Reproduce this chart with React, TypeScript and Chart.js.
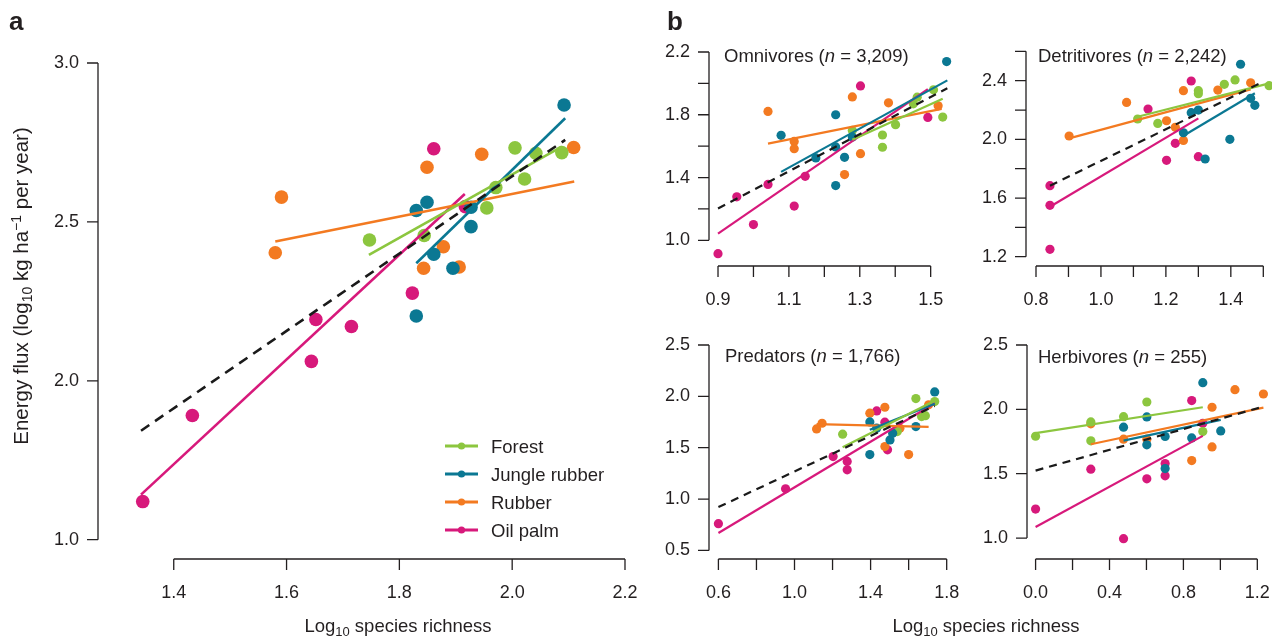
import React, { useEffect, useRef } from "react";
import { Chart, registerables } from "chart.js";

Chart.register(...registerables);

const FONT = '"Liberation Sans", Arial, Helvetica, sans-serif';
const INK = "#231F20";
const GROUPS = ["Forest", "Jungle rubber", "Rubber", "Oil palm"];
const GROUP_COLORS = ["#8CC63F", "#0B7893", "#F37A21", "#D7197B"];

type Pt = [number, number];

// ---------- Panel a (all animals) ----------
const aForest: Pt[] = [[1.747, 2.443], [1.844, 2.457], [1.955, 2.544], [1.971, 2.608], [2.005, 2.733], [2.022, 2.635], [2.042, 2.716], [2.088, 2.718]];
const aJungle: Pt[] = [[1.830, 2.204], [1.830, 2.536], [1.849, 2.562], [1.861, 2.398], [1.895, 2.354], [1.927, 2.485], [1.927, 2.546], [2.092, 2.868]];
const aRubber: Pt[] = [[1.580, 2.403], [1.591, 2.578], [1.843, 2.354], [1.849, 2.672], [1.878, 2.422], [1.906, 2.358], [1.946, 2.713], [2.109, 2.734]];
const aOilPalm: Pt[] = [[1.345, 1.620], [1.433, 1.891], [1.644, 2.061], [1.652, 2.193], [1.715, 2.171], [1.823, 2.276], [1.861, 2.730], [1.917, 2.548]];
const aFits = [[1.746, 2.396, 2.088, 2.737], [1.830, 2.370, 2.094, 2.826], [1.580, 2.438, 2.110, 2.627], [1.342, 1.642, 1.916, 2.588]];
const aOverall = [1.342, 1.843, 2.094, 2.758];
const aXTicks = [1.4, 1.6, 1.8, 2.0, 2.2];
const aXLabels = ["1.4", "1.6", "1.8", "2.0", "2.2"];
const aYTicks = [1.5, 2.0, 2.5, 3.0];
const aYLabels = ["1.0", "2.0", "2.5", "3.0"];

// ---------- Omnivores ----------
const omForest: Pt[] = [[1.279, 1.700], [1.364, 1.671], [1.364, 1.593], [1.401, 1.737], [1.451, 1.870], [1.462, 1.912], [1.508, 1.959], [1.534, 1.785]];
const omJungle: Pt[] = [[1.078, 1.669], [1.176, 1.525], [1.232, 1.800], [1.232, 1.595], [1.232, 1.349], [1.257, 1.529], [1.279, 1.658], [1.545, 2.139]];
const omRubber: Pt[] = [[1.041, 1.821], [1.115, 1.630], [1.115, 1.584], [1.257, 1.419], [1.279, 1.914], [1.302, 1.552], [1.381, 1.876], [1.521, 1.857]];
const omOilPalm: Pt[] = [[0.900, 0.915], [0.953, 1.277], [1.000, 1.100], [1.041, 1.356], [1.115, 1.218], [1.146, 1.408], [1.302, 1.984], [1.492, 1.783]];
const omFits = [[1.279, 1.641, 1.534, 1.902], [1.078, 1.436, 1.547, 2.019], [1.041, 1.616, 1.531, 1.838], [0.900, 1.043, 1.492, 1.963]];
const omOverall = [0.900, 1.203, 1.547, 1.969];
const omXTicks = [0.9, 1.0, 1.1, 1.2, 1.3, 1.4, 1.5];
const omXLabels = ["0.9", "", "1.1", "", "1.3", "", "1.5"];
const omYTicks = [1.0, 1.2, 1.4, 1.6, 1.8, 2.0, 2.2];
const omYLabels = ["1.0", "", "1.4", "", "1.8", "", "2.2"];

// ---------- Detritivores ----------
const deForest: Pt[] = [[1.113, 2.139], [1.175, 2.109], [1.300, 2.332], [1.300, 2.311], [1.380, 2.375], [1.413, 2.405], [1.518, 2.366]];
const deJungle: Pt[] = [[1.254, 2.045], [1.278, 2.182], [1.300, 2.200], [1.321, 1.866], [1.397, 2.000], [1.430, 2.512], [1.461, 2.280], [1.474, 2.232]];
const deRubber: Pt[] = [[0.902, 2.023], [1.079, 2.252], [1.202, 2.127], [1.229, 2.082], [1.254, 2.332], [1.254, 1.993], [1.360, 2.336], [1.461, 2.386]];
const deOilPalm: Pt[] = [[0.843, 1.684], [0.843, 1.550], [0.843, 1.250], [1.145, 2.207], [1.202, 1.857], [1.229, 1.973], [1.278, 2.398], [1.300, 1.882]];
const deFits = [[1.113, 2.154, 1.518, 2.382], [1.254, 2.025, 1.474, 2.314], [0.902, 2.007, 1.461, 2.341], [0.843, 1.541, 1.300, 2.143]];
const deOverall = [0.843, 1.684, 1.500, 2.393];
const deXTicks = [0.8, 0.9, 1.0, 1.1, 1.2, 1.3, 1.4, 1.5];
const deXLabels = ["0.8", "", "1.0", "", "1.2", "", "1.4", ""];
const deYTicks = [1.2, 1.4, 1.6, 1.8, 2.0, 2.2, 2.4, 2.6];
const deYLabels = ["1.2", "", "1.6", "", "2.0", "", "2.4", ""];

// ---------- Predators ----------
const prForest: Pt[] = [[1.253, 1.632], [1.540, 1.657], [1.638, 1.978], [1.668, 1.803], [1.688, 1.812], [1.737, 1.949]];
const prJungle: Pt[] = [[1.396, 1.751], [1.396, 1.433], [1.432, 1.690], [1.502, 1.576], [1.516, 1.641], [1.638, 1.706], [1.737, 2.043]];
const prRubber: Pt[] = [[1.116, 1.683], [1.145, 1.738], [1.396, 1.836], [1.475, 1.894], [1.475, 1.511], [1.554, 1.690], [1.600, 1.433], [1.705, 1.917]];
const prOilPalm: Pt[] = [[0.600, 0.760], [0.953, 1.100], [1.203, 1.414], [1.277, 1.366], [1.277, 1.285], [1.432, 1.858], [1.475, 1.748], [1.489, 1.479]];
const prFits = [[1.253, 1.505, 1.737, 1.958], [1.396, 1.674, 1.737, 1.927], [1.116, 1.729, 1.705, 1.703], [0.600, 0.669, 1.737, 1.933]];
const prOverall = [0.600, 0.922, 1.737, 1.907];
const prXTicks = [0.6, 0.8, 1.0, 1.2, 1.4, 1.6, 1.8];
const prXLabels = ["0.6", "", "1.0", "", "1.4", "", "1.8"];
const prYTicks = [0.5, 1.0, 1.5, 2.0, 2.5];
const prYLabels = ["0.5", "1.0", "1.5", "2.0", "2.5"];

// ---------- Herbivores ----------
const heForest: Pt[] = [[0.000, 1.791], [0.299, 1.902], [0.299, 1.755], [0.476, 1.943], [0.602, 2.057], [0.905, 1.827]];
const heJungle: Pt[] = [[0.476, 1.861], [0.602, 1.941], [0.602, 1.724], [0.701, 1.789], [0.701, 1.540], [0.845, 1.778], [0.905, 2.207], [1.002, 1.832]];
const heRubber: Pt[] = [[0.299, 1.887], [0.476, 1.768], [0.602, 1.768], [0.845, 1.602], [0.955, 2.016], [0.955, 1.708], [1.079, 2.153], [1.233, 2.119]];
const heOilPalm: Pt[] = [[0.000, 1.225], [0.299, 1.535], [0.476, 0.995], [0.602, 1.460], [0.701, 1.579], [0.701, 1.483], [0.845, 2.068], [0.905, 1.892]];
const heFits = [[0.000, 1.815, 0.905, 2.016], [0.476, 1.757, 1.002, 1.918], [0.299, 1.729, 1.233, 2.013], [0.000, 1.085, 0.905, 1.794]];
const heOverall = [0.000, 1.524, 1.233, 2.021];
const heXTicks = [0.0, 0.2, 0.4, 0.6, 0.8, 1.0, 1.2];
const heXLabels = ["0.0", "", "0.4", "", "0.8", "", "1.2"];
const heYTicks = [1.0, 1.5, 2.0, 2.5];
const heYLabels = ["1.0", "1.5", "2.0", "2.5"];

// ---------- layout ----------
type Area = { L: number; T: number; R: number; B: number };
type Ref = [number, number, number, number]; // value0, pixel0, value1, pixel1

interface PanelCfg {
  id: string;
  area: Area;
  xRef: Ref;
  yRef: Ref;
  xTicks: number[];
  xLabels: string[];
  yTicks: number[];
  yLabels: string[];
  groups: Pt[][];
  fits: number[][];
  overall: number[];
  radius: number;
  lineWidth: number;
  dash: number[];
}

const Y_AXIS_W = 70;
const X_AXIS_H = 60;
const PAD = 40;
const TICK = 11;

const PANELS: PanelCfg[] = [
  {
    id: "a", area: { L: 98.3, T: 40, R: 640, B: 559.3 },
    xRef: [1.4, 174, 2.2, 625], yRef: [1.5, 540, 3.0, 63],
    xTicks: aXTicks, xLabels: aXLabels, yTicks: aYTicks, yLabels: aYLabels,
    groups: [aForest, aJungle, aRubber, aOilPalm], fits: aFits, overall: aOverall,
    radius: 6.8, lineWidth: 2.6, dash: [10, 7],
  },
  {
    id: "omni", area: { L: 709.3, T: 40, R: 955, B: 266 },
    xRef: [0.9, 718.3, 1.5, 930.7], yRef: [1.0, 240.3, 2.2, 52],
    xTicks: omXTicks, xLabels: omXLabels, yTicks: omYTicks, yLabels: omYLabels,
    groups: [omForest, omJungle, omRubber, omOilPalm], fits: omFits, overall: omOverall,
    radius: 4.6, lineWidth: 2.2, dash: [8, 6],
  },
  {
    id: "detr", area: { L: 1026, T: 40, R: 1272, B: 266 },
    xRef: [0.8, 1036, 1.5, 1263.3], yRef: [1.2, 256.7, 2.4, 80.7],
    xTicks: deXTicks, xLabels: deXLabels, yTicks: deYTicks, yLabels: deYLabels,
    groups: [deForest, deJungle, deRubber, deOilPalm], fits: deFits, overall: deOverall,
    radius: 4.6, lineWidth: 2.2, dash: [8, 6],
  },
  {
    id: "pred", area: { L: 709.3, T: 330, R: 955, B: 559.3 },
    xRef: [0.6, 718.7, 1.8, 946.7], yRef: [0.5, 550.7, 2.5, 345],
    xTicks: prXTicks, xLabels: prXLabels, yTicks: prYTicks, yLabels: prYLabels,
    groups: [prForest, prJungle, prRubber, prOilPalm], fits: prFits, overall: prOverall,
    radius: 4.6, lineWidth: 2.2, dash: [8, 6],
  },
  {
    id: "herb", area: { L: 1026.7, T: 330, R: 1272, B: 559.3 },
    xRef: [0.0, 1035.3, 1.2, 1257.3], yRef: [1.0, 538.3, 2.5, 345],
    xTicks: heXTicks, xLabels: heXLabels, yTicks: heYTicks, yLabels: heYLabels,
    groups: [heForest, heJungle, heRubber, heOilPalm], fits: heFits, overall: heOverall,
    radius: 4.6, lineWidth: 2.2, dash: [8, 6],
  },
];

// Draws R-style detached axes (line spans first..last tick, outward tick marks)
const rAxesPlugin = {
  id: "rAxes",
  afterDraw(chart: any) {
    const { ctx, chartArea } = chart;
    const xs = chart.scales.x;
    const ys = chart.scales.y;
    const xp = xs.ticks.map((t: any) => xs.getPixelForValue(t.value));
    const yp = ys.ticks.map((t: any) => ys.getPixelForValue(t.value));
    ctx.save();
    ctx.strokeStyle = INK;
    ctx.lineWidth = 1.3;
    ctx.beginPath();
    const b = chartArea.bottom;
    ctx.moveTo(xp[0], b);
    ctx.lineTo(xp[xp.length - 1], b);
    xp.forEach((p: number) => {
      ctx.moveTo(p, b);
      ctx.lineTo(p, b + TICK);
    });
    const l = chartArea.left;
    ctx.moveTo(l, yp[0]);
    ctx.lineTo(l, yp[yp.length - 1]);
    yp.forEach((p: number) => {
      ctx.moveTo(l, p);
      ctx.lineTo(l - TICK, p);
    });
    ctx.stroke();
    ctx.restore();
  },
};

function PanelChart({ cfg }: { cfg: PanelCfg }) {
  const ref = useRef<HTMLCanvasElement | null>(null);
  const { area } = cfg;
  const left = area.L - Y_AXIS_W - PAD;
  const top = area.T - PAD;
  const width = Math.round(area.R - area.L + Y_AXIS_W + 2 * PAD);
  const height = Math.round(area.B - area.T + X_AXIS_H + 2 * PAD);

  useEffect(() => {
    if (!ref.current) return;
    const [xv0, xp0, xv1, xp1] = cfg.xRef;
    const [yv0, yp0, yv1, yp1] = cfg.yRef;
    const kx = (xp1 - xp0) / (xv1 - xv0);
    const ky = (yp1 - yp0) / (yv1 - yv0);
    const xMin = xv0 + (area.L - xp0) / kx;
    const xMax = xv0 + (area.R - xp0) / kx;
    const yMin = yv0 + (area.B - yp0) / ky;
    const yMax = yv0 + (area.T - yp0) / ky;

    const datasets: any[] = [];
    const o = cfg.overall;
    datasets.push({
      label: "All",
      data: [{ x: o[0], y: o[1] }, { x: o[2], y: o[3] }],
      showLine: true,
      borderColor: "#1A1A1A",
      borderWidth: cfg.lineWidth,
      borderDash: cfg.dash,
      pointRadius: 0,
      order: 0,
    });
    cfg.fits.forEach((f, i) => {
      datasets.push({
        label: GROUPS[i] + " fit",
        data: [{ x: f[0], y: f[1] }, { x: f[2], y: f[3] }],
        showLine: true,
        borderColor: GROUP_COLORS[i],
        borderWidth: cfg.lineWidth,
        pointRadius: 0,
        order: 1,
      });
    });
    const pointOrder = [1, 0, 2, 3]; // jungle rubber on top, oil palm lowest
    pointOrder.forEach((gi, k) => {
      datasets.push({
        label: GROUPS[gi],
        data: cfg.groups[gi].map(([x, y]) => ({ x, y })),
        showLine: false,
        pointRadius: cfg.radius,
        pointHoverRadius: cfg.radius,
        pointBackgroundColor: GROUP_COLORS[gi],
        pointBorderWidth: 0,
        borderColor: GROUP_COLORS[gi],
        order: 2 + k,
      });
    });

    const tickFont = { family: FONT, size: 18, lineHeight: 1.2 };
    const chart = new Chart(ref.current, {
      type: "scatter",
      data: { datasets },
      options: {
        responsive: false,
        animation: false,
        devicePixelRatio: 1,
        events: [],
        layout: { padding: PAD },
        plugins: {
          legend: { display: false },
          tooltip: { enabled: false },
          title: { display: false },
        },
        scales: {
          x: {
            type: "linear",
            min: xMin,
            max: xMax,
            afterBuildTicks: (s: any) => {
              s.ticks = cfg.xTicks.map((v) => ({ value: v }));
            },
            afterFit: (s: any) => {
              s.height = X_AXIS_H;
            },
            grid: { display: false, drawTicks: false },
            border: { display: false },
            ticks: {
              autoSkip: false,
              maxRotation: 0,
              minRotation: 0,
              padding: 23.5,
              color: INK,
              font: tickFont,
              callback: (_v: any, i: number) => cfg.xLabels[i],
            },
          },
          y: {
            type: "linear",
            min: yMin,
            max: yMax,
            afterBuildTicks: (s: any) => {
              s.ticks = cfg.yTicks.map((v) => ({ value: v }));
            },
            afterFit: (s: any) => {
              s.width = Y_AXIS_W;
            },
            grid: { display: false, drawTicks: false },
            border: { display: false },
            ticks: {
              autoSkip: false,
              padding: 19,
              color: INK,
              font: tickFont,
              callback: (_v: any, i: number) => cfg.yLabels[i],
            },
          },
        },
      } as any,
      plugins: [rAxesPlugin],
    });
    return () => chart.destroy();
  }, []);

  return (
    <canvas
      ref={ref}
      width={width}
      height={height}
      style={{ position: "absolute", left, top, width, height }}
    />
  );
}

function Overlay() {
  const T = 18.5;
  const sub = 13;
  return (
    <svg
      width={1277}
      height={637}
      style={{ position: "absolute", left: 0, top: 0, pointerEvents: "none" }}
      fontFamily={FONT}
      fill={INK}
    >
      <text x={9} y={30} fontSize={26} fontWeight="bold">a</text>
      <text x={667} y={30} fontSize={26} fontWeight="bold">b</text>

      <text transform="translate(27.5,286) rotate(-90)" textAnchor="middle" fontSize={20.5}>
        Energy flux (log<tspan fontSize={14} dy={4}>10</tspan>
        <tspan dy={-4}> kg ha</tspan>
        <tspan fontSize={14} dy={-7}>−1</tspan>
        <tspan dy={7}> per year)</tspan>
      </text>

      <text x={398} y={632} textAnchor="middle" fontSize={T}>
        Log<tspan fontSize={sub} dy={4}>10</tspan>
        <tspan dy={-4}> species richness</tspan>
      </text>
      <text x={986} y={632} textAnchor="middle" fontSize={T}>
        Log<tspan fontSize={sub} dy={4}>10</tspan>
        <tspan dy={-4}> species richness</tspan>
      </text>

      <text x={724} y={61.5} fontSize={T}>
        Omnivores (<tspan fontStyle="italic">n</tspan> = 3,209)
      </text>
      <text x={1038} y={61.5} fontSize={T}>
        Detritivores (<tspan fontStyle="italic">n</tspan> = 2,242)
      </text>
      <text x={725} y={361.7} fontSize={T}>
        Predators (<tspan fontStyle="italic">n</tspan> = 1,766)
      </text>
      <text x={1038} y={363} fontSize={T}>
        Herbivores (<tspan fontStyle="italic">n</tspan> = 255)
      </text>

      {GROUPS.map((g, i) => {
        const cy = 446 + i * 28;
        return (
          <g key={g}>
            <line x1={445} y1={cy} x2={478} y2={cy} stroke={GROUP_COLORS[i]} strokeWidth={3} />
            <circle cx={461.5} cy={cy} r={3.6} fill={GROUP_COLORS[i]} />
            <text x={491} y={cy + 6.5} fontSize={T}>{g}</text>
          </g>
        );
      })}
    </svg>
  );
}

export default function App() {
  return (
    <div
      style={{
        position: "fixed",
        left: 0,
        top: 0,
        width: 1277,
        height: 637,
        background: "#FFFFFF",
        overflow: "hidden",
      }}
    >
      {PANELS.map((p) => (
        <PanelChart key={p.id} cfg={p} />
      ))}
      <Overlay />
    </div>
  );
}
